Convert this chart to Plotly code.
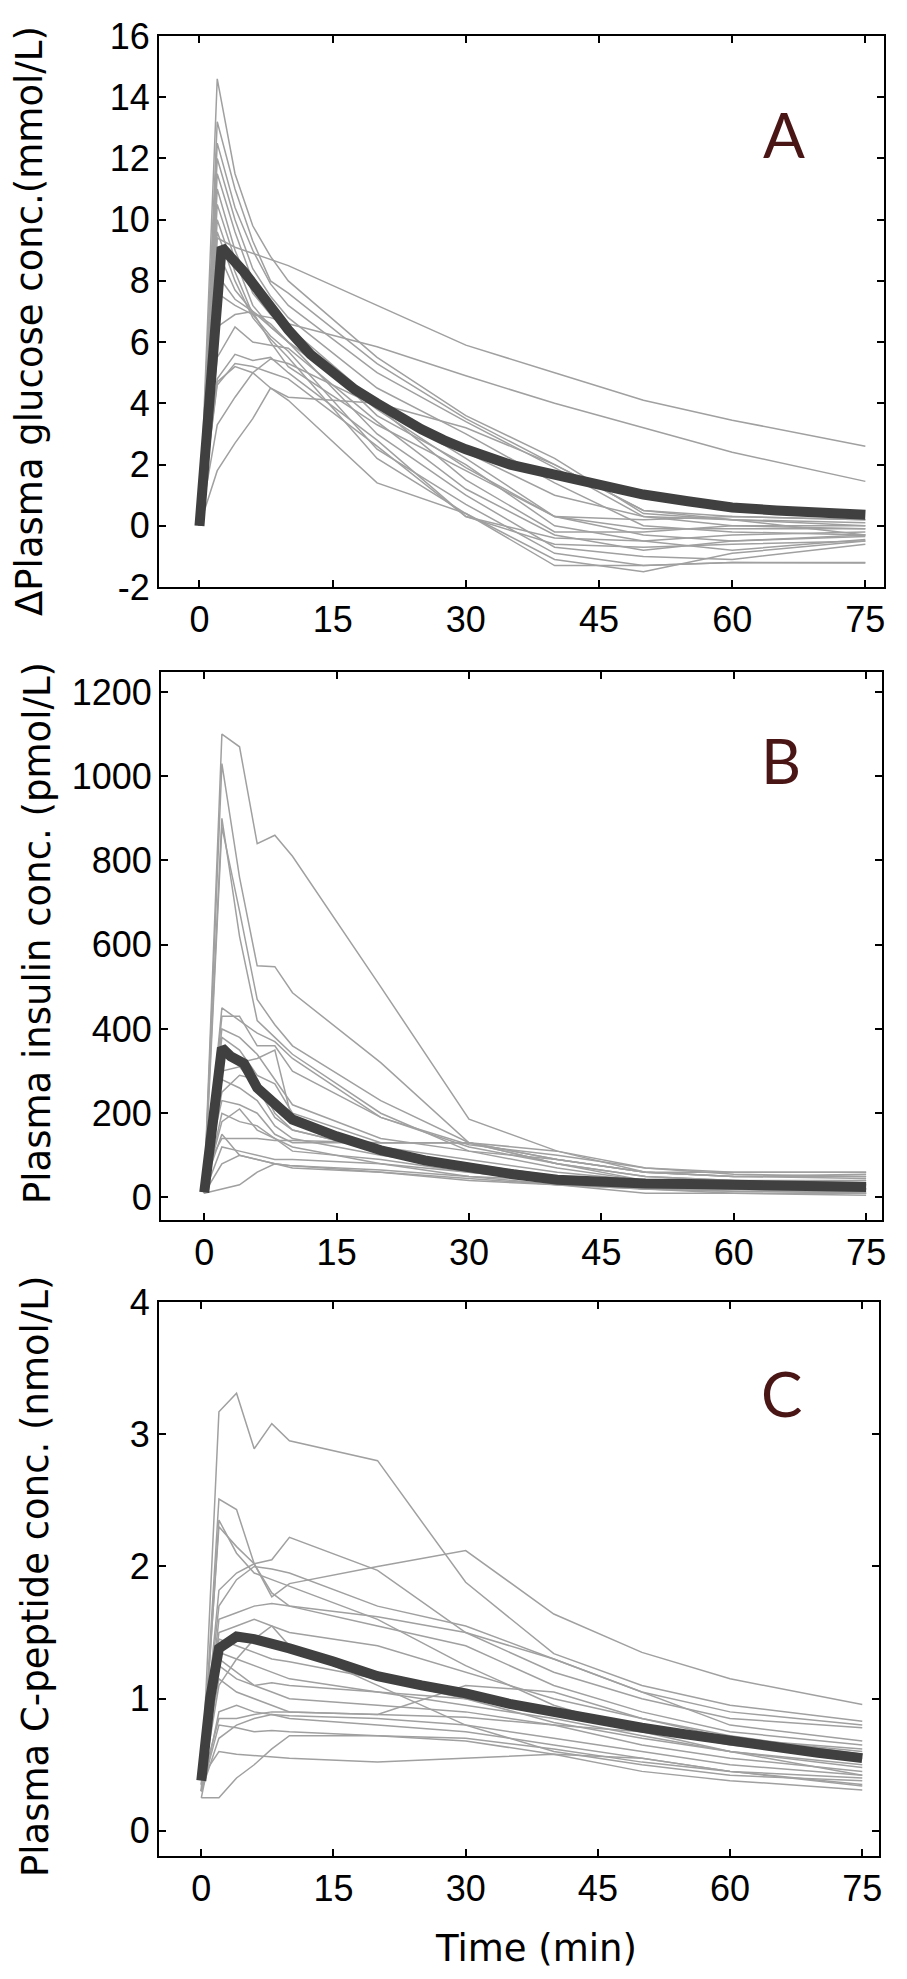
import plotly.graph_objects as go

# ---------------- data ----------------
times = [0, 2, 4, 6, 8, 10, 20, 30, 40, 50, 60, 75]

glucose_subjects = [
    [0, 9.4, 9.1, 8.9, 8.7, 8.5, 7.2, 5.9, 5.0, 4.1, 3.45, 2.6],
    [0, 7.6, 7.2, 6.9, 6.8, 6.6, 5.85, 4.9, 4.0, 3.2, 2.4, 1.45],
    [0, 14.6, 11.5, 9.8, 8.8, 8.0, 5.5, 3.6, 2.2, 0.4, 0.2, 0.1],
    [0, 13.2, 11.0, 9.3, 8.0, 7.6, 5.3, 3.5, 2.0, 0.5, 0.3, 0.2],
    [0, 12.5, 10.4, 9.0, 7.9, 7.2, 5.0, 3.4, 1.9, 0.3, 0.0, -0.1],
    [0, 12.0, 10.0, 8.4, 7.5, 6.8, 4.5, 3.0, 1.4, 0.0, -0.2, -0.3],
    [0, 11.5, 9.6, 8.0, 7.0, 6.5, 4.0, 2.2, 0.3, -0.3, -0.5, -0.35],
    [0, 11.0, 9.0, 7.6, 6.9, 6.4, 3.6, 2.0, 0.0, -0.5, -0.8, -0.45],
    [0, 10.5, 8.7, 7.2, 6.5, 6.0, 3.0, 1.0, -0.7, -1.0, -1.1, -0.6],
    [0, 10.0, 8.3, 6.9, 6.2, 5.7, 2.5, 0.7, -0.9, -1.3, -1.2, -1.22],
    [0, 9.6, 8.0, 6.8, 6.1, 5.5, 2.2, 0.4, -1.1, -1.5, -0.9, -0.5],
    [0, 9.0, 7.7, 7.0, 6.0, 5.2, 3.3, 1.8, 0.3, 0.2, 0.3, 0.2],
    [0, 8.2, 7.4, 7.0, 6.6, 6.0, 3.9, 2.4, 1.0, 0.3, 0.2, 0.0],
    [0, 6.5, 6.9, 7.0, 6.5, 6.0, 3.8, 1.9, 0.3, -0.1, -0.1, -0.1],
    [0, 5.5, 6.5, 6.0, 5.9, 5.8, 3.4, 1.2, -0.3, -0.8, -0.5, -0.3],
    [0, 4.8, 5.6, 5.4, 5.5, 5.0, 2.8, 0.3, -0.4, -0.5, -0.3, -0.2],
    [0, 4.6, 5.3, 5.2, 5.0, 4.8, 2.6, 0.3, -0.6, -0.7, -0.6, -0.5],
    [0, 3.3, 4.2, 5.0, 5.45, 5.3, 3.9, 1.5, -0.2, -0.2, 0.0, 0.0],
    [0, 1.8, 2.7, 3.5, 4.5, 4.2, 4.0, 3.2, 2.0, 0.5, 0.2, -0.3],
    [0, 4.7, 5.2, 5.0, 4.5, 4.1, 1.4, 0.4, -1.3, -1.3, -1.2, -1.2],
]

insulin_subjects = [
    [20, 1100, 1070, 840, 860, 810, 500, 186, 110, 70, 55, 50],
    [15, 1030, 760, 550, 548, 486, 320, 130, 80, 50, 40, 30],
    [30, 900, 620, 420, 380, 340, 200, 110, 70, 40, 30, 20],
    [10, 880, 680, 470, 410, 360, 230, 130, 90, 60, 50, 45],
    [20, 450, 420, 390, 370, 330, 190, 125, 100, 70, 60, 60],
    [15, 430, 430, 360, 360, 300, 190, 120, 80, 40, 30, 20],
    [40, 400, 380, 340, 280, 220, 140, 110, 90, 60, 50, 55],
    [25, 380, 350, 290, 270, 200, 130, 130, 80, 50, 40, 40],
    [10, 350, 320, 330, 350, 180, 120, 90, 60, 40, 30, 20],
    [20, 300, 310, 260, 190, 160, 110, 80, 50, 30, 20, 10],
    [30, 280, 260, 230, 170, 140, 100, 70, 40, 20, 15, 10],
    [50, 230, 220, 200, 150, 130, 130, 130, 90, 60, 50, 50],
    [10, 200, 180, 170, 140, 110, 90, 60, 40, 20, 20, 10],
    [20, 180, 210, 160, 140, 120, 80, 50, 30, 10, 10, 5],
    [60, 140, 140, 140, 135, 135, 130, 130, 110, 60, 60, 60],
    [10, 120, 110, 100, 90, 90, 80, 60, 40, 20, 15, 15],
    [30, 150, 100, 90, 80, 70, 60, 40, 30, 20, 10, 10],
    [10, 80, 100, 90, 80, 75, 65, 50, 40, 30, 25, 30],
    [10, 20, 30, 60, 80, 75, 60, 45, 30, 20, 20, 20],
    [20, 250, 290, 280, 200, 160, 110, 70, 50, 40, 35, 40],
]

cpeptide_subjects = [
    [0.30, 3.17, 3.31, 2.89, 3.08, 2.95, 2.80, 1.88, 1.34, 1.10, 0.95, 0.83],
    [0.40, 2.30, 2.15, 2.02, 1.77, 1.87, 2.00, 2.12, 1.64, 1.35, 1.15, 0.956],
    [0.35, 2.51, 2.43, 2.02, 1.80, 1.70, 1.55, 1.40, 1.10, 0.90, 0.75, 0.65],
    [0.45, 1.82, 1.95, 2.02, 2.05, 2.22, 1.97, 1.50, 1.20, 1.00, 0.85, 0.78],
    [0.30, 2.35, 2.10, 1.95, 1.90, 1.85, 1.60, 1.25, 0.95, 0.75, 0.60, 0.50],
    [0.50, 1.70, 1.90, 2.00, 1.98, 1.95, 1.70, 1.55, 1.30, 1.05, 0.90, 0.80],
    [0.40, 1.60, 1.65, 1.70, 1.72, 1.70, 1.62, 1.50, 1.30, 1.05, 0.80, 0.68],
    [0.55, 1.50, 1.55, 1.60, 1.55, 1.50, 1.40, 1.20, 1.00, 0.85, 0.70, 0.60],
    [0.35, 1.45, 1.40, 1.35, 1.30, 1.28, 1.15, 1.00, 0.90, 0.78, 0.65, 0.55],
    [0.40, 1.35, 1.30, 1.25, 1.20, 1.15, 1.05, 0.95, 0.85, 0.72, 0.60, 0.48],
    [0.30, 1.30, 1.20, 1.10, 1.05, 1.00, 0.95, 0.90, 0.80, 0.65, 0.55, 0.45],
    [0.45, 1.25, 1.15, 1.10, 1.12, 1.10, 1.05, 1.00, 0.82, 0.70, 0.60, 0.42],
    [0.30, 1.10, 1.30, 1.45, 1.55, 1.40, 1.10, 0.80, 0.60, 0.50, 0.42, 0.38],
    [0.35, 0.85, 0.85, 0.88, 0.90, 0.90, 0.88, 0.86, 0.80, 0.75, 0.70, 0.62],
    [0.25, 0.90, 0.95, 0.90, 0.88, 0.85, 0.80, 0.75, 0.65, 0.55, 0.45, 0.35],
    [0.30, 0.80, 0.78, 0.75, 0.76, 0.75, 0.72, 0.70, 0.62, 0.52, 0.45, 0.40],
    [0.40, 0.60, 0.58, 0.57, 0.56, 0.55, 0.52, 0.55, 0.58, 0.55, 0.45, 0.34],
    [0.25, 0.25, 0.40, 0.50, 0.62, 0.72, 0.72, 0.68, 0.58, 0.45, 0.38, 0.31],
    [0.40, 1.15, 1.05, 1.00, 0.95, 0.90, 0.88, 1.10, 1.05, 0.85, 0.72, 0.58],
    [0.30, 0.70, 0.80, 0.85, 0.88, 0.87, 0.85, 0.80, 0.70, 0.60, 0.50, 0.42],
]

glucose_mean_t = [0, 1, 2.5, 5, 7.5, 10, 12.5, 15, 17.5, 20, 22.5, 25, 27.5, 30,
                  35, 40, 45, 50, 55, 60, 65, 70, 75]
glucose_mean = [0, 4.0, 9.1, 8.3, 7.3, 6.4, 5.6, 5.0, 4.45, 4.0, 3.55, 3.15, 2.8, 2.5,
                2.0, 1.65, 1.3, 1.02, 0.8, 0.6, 0.5, 0.42, 0.36]

insulin_mean_t = [0, 2, 3, 4.5, 6, 8, 10, 15, 20, 25, 30, 35, 40, 45, 50, 55, 60, 65, 70, 75]
insulin_mean = [12, 355, 335, 318, 260, 225, 185, 145, 112, 88, 70, 55, 42, 36, 33, 32,
                31, 30, 25, 25]

cpep_mean_t = [0, 1, 2, 4, 6, 8, 10, 15, 20, 25, 30, 35, 40, 45, 50, 55, 60, 65, 70, 75]
cpep_mean = [0.38, 1.0, 1.38, 1.47, 1.45, 1.42, 1.38, 1.28, 1.17, 1.10, 1.04, 0.96,
             0.90, 0.83, 0.78, 0.73, 0.68, 0.63, 0.59, 0.55]

x_ticks = [0, 15, 30, 45, 60, 75]
y_ticks_a = [-2, 0, 2, 4, 6, 8, 10, 12, 14, 16]
y_ticks_b = [0, 200, 400, 600, 800, 1000, 1200]
y_ticks_c = [0, 1, 2, 3, 4]

titles_y = ["\u0394Plasma glucose conc.(mmol/L)",
            "Plasma insulin conc. (pmol/L)",
            "Plasma C-peptide conc. (nmol/L)"]
panel_letters = ["A", "B", "C"]
x_title = "Time (min)"

# ---------------- layout geometry (page pixels) ----------------
W, H = 907, 1979


def fx(px):
    return px / W


def fy(py):
    return 1 - py / H


boxes = [  # left, right, top, bottom (page pixels)
    (159, 884, 36, 587),
    (161, 882, 672, 1220),
    (159, 879, 1302, 1856),
]
xranges = [[-4.56, 77.1], [-4.9, 76.8], [-4.8, 76.9]]
yranges = [[-2, 16], [-53.5, 1247.5], [-0.19, 4.0]]
yticks = [y_ticks_a, y_ticks_b, y_ticks_c]
letter_pos = [(65.8, 12.8), (65.4, 1038), (65.8, 3.31)]
ytitle_pos = [(30, 321), (37, 933), (35, 1577)]
xtitle_pos = (536, 1948)

GRAY = "#a0a0a0"
DARK = "#404040"

fig = go.Figure()
datasets = [(glucose_subjects, glucose_mean_t, glucose_mean),
            (insulin_subjects, insulin_mean_t, insulin_mean),
            (cpeptide_subjects, cpep_mean_t, cpep_mean)]

for i, (subs, mt, mv) in enumerate(datasets):
    xa = "x" if i == 0 else f"x{i+1}"
    ya = "y" if i == 0 else f"y{i+1}"
    for s in subs:
        fig.add_trace(go.Scatter(x=times, y=s, mode="lines", xaxis=xa, yaxis=ya,
                                 line=dict(color=GRAY, width=1.5),
                                 showlegend=False, hoverinfo="skip"))
    fig.add_trace(go.Scatter(x=mt, y=mv, mode="lines", xaxis=xa, yaxis=ya,
                             line=dict(color=DARK, width=10),
                             showlegend=False, hoverinfo="skip"))

tickfont = dict(family="Liberation Sans, Arial, sans-serif", size=36, color="black")
layout = dict(width=W, height=H, margin=dict(l=0, r=0, t=0, b=0, pad=0),
              paper_bgcolor="white", plot_bgcolor="white", showlegend=False)

for i, (l, r, t, b) in enumerate(boxes):
    xk = "xaxis" if i == 0 else f"xaxis{i+1}"
    yk = "yaxis" if i == 0 else f"yaxis{i+1}"
    yname = "y" if i == 0 else f"y{i+1}"
    xname = "x" if i == 0 else f"x{i+1}"
    layout[xk] = dict(domain=[fx(l), fx(r)], range=xranges[i], anchor=yname,
                      tickvals=x_ticks, ticktext=[str(v) for v in x_ticks],
                      ticks="inside", ticklen=7, tickwidth=1.5, automargin=False,
                      tickcolor="black", showline=True, linecolor="black", linewidth=2,
                      mirror="allticks", showgrid=False, zeroline=False,
                      tickfont=tickfont)
    layout[yk] = dict(domain=[fy(b), fy(t)], range=yranges[i], anchor=xname,
                      tickvals=yticks[i], ticktext=[str(v) for v in yticks[i]],
                      ticks="inside", ticklen=7, tickwidth=1.5, automargin=False,
                      tickcolor="black", showline=True, linecolor="black", linewidth=2,
                      mirror="allticks", showgrid=False, zeroline=False,
                      tickfont=tickfont)

annotations = []
for i in range(3):
    xr = "x" if i == 0 else f"x{i+1}"
    yr = "y" if i == 0 else f"y{i+1}"
    annotations.append(dict(x=letter_pos[i][0], y=letter_pos[i][1], xref=xr, yref=yr,
                            text=panel_letters[i], showarrow=False,
                            font=dict(family="Lato, Open Sans, sans-serif", size=62,
                                      color="#4a1515"),
                            xanchor="center", yanchor="middle"))
    annotations.append(dict(x=fx(ytitle_pos[i][0]), y=fy(ytitle_pos[i][1]),
                            xref="paper", yref="paper", text=titles_y[i],
                            showarrow=False, textangle=-90,
                            font=dict(family="DejaVu Sans, sans-serif", size=37,
                                      color="black"),
                            xanchor="center", yanchor="middle"))
annotations.append(dict(x=fx(xtitle_pos[0]), y=fy(xtitle_pos[1]), xref="paper", yref="paper",
                        text=x_title, showarrow=False,
                        font=dict(family="DejaVu Sans, sans-serif", size=37, color="black"),
                        xanchor="center", yanchor="middle"))
layout["annotations"] = annotations

fig.update_layout(**layout)
fig.write_html("out.html", config={"displayModeBar": False},
               post_script="document.body.style.margin='0';document.body.style.padding='0';")
